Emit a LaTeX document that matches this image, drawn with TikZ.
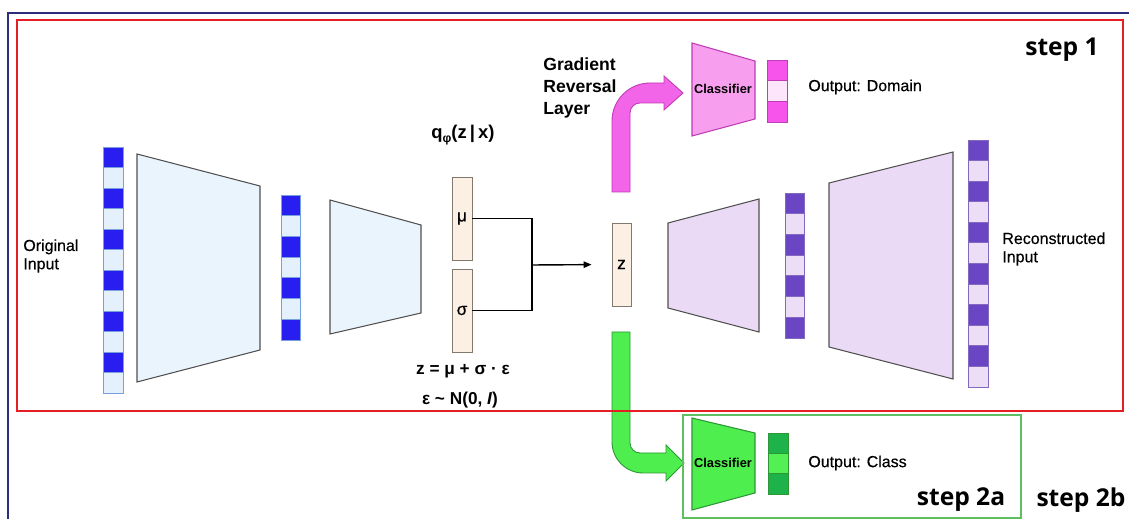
\documentclass[tikz,border=0pt]{standalone}
\usepackage{fontspec}
\setmainfont{Liberation Sans}
\newfontfamily\lblfont[FakeBold=0.4]{Liberation Sans}
\newfontfamily\stepfont{Open Sans}
\usetikzlibrary{arrows.meta}
\definecolor{navyline}{RGB}{45,45,125}
\definecolor{redframe}{RGB}{228,30,36}
\definecolor{greenframe}{RGB}{95,190,95}
\definecolor{bluecell}{RGB}{40,30,240}
\definecolor{bluelight}{RGB}{228,240,252}
\definecolor{bluestroke}{RGB}{120,160,220}
\definecolor{encfill}{RGB}{234,244,253}
\definecolor{trapstroke}{RGB}{80,80,80}
\definecolor{beige}{RGB}{252,240,228}
\definecolor{beigestroke}{RGB}{130,120,110}
\definecolor{purplecell}{RGB}{106,70,196}
\definecolor{purplelight}{RGB}{236,222,247}
\definecolor{purplestroke}{RGB}{130,105,190}
\definecolor{decfill}{RGB}{235,218,246}
\definecolor{pinkarrow}{RGB}{242,100,232}
\definecolor{pinkstroke}{RGB}{190,60,180}
\definecolor{pinkclass}{RGB}{248,158,238}
\definecolor{pinkcell}{RGB}{246,84,234}
\definecolor{pinklight}{RGB}{253,230,251}
\definecolor{greenarrow}{RGB}{78,238,78}
\definecolor{greenstroke}{RGB}{45,150,55}
\definecolor{greendark}{RGB}{30,178,75}
\definecolor{greenmid}{RGB}{82,240,82}
\newcommand{\cellcolumn}[8]{%
  \pgfmathsetmacro{\cellh}{(#4-#3)/#5}%
  \foreach \i in {1,...,#5}{%
    \pgfmathsetmacro{\ya}{#3+(\i-1)*\cellh}%
    \pgfmathsetmacro{\yb}{#3+\i*\cellh}%
    \ifodd\i\def\cc{#6}\else\def\cc{#7}\fi
    \draw[draw=#8, line width=0.5pt, fill=\cc] (#1,\ya) rectangle (#2,\yb);
  }%
}
\tikzset{
  trap/.style={draw=trapstroke, line width=0.6pt},
  lbl/.style={inner sep=0pt, font=\lblfont\fontsize{9.1}{10.4}\selectfont, align=left, anchor=west},
  boldlbl/.style={inner sep=0pt, font=\bfseries\fontsize{9.8}{11}\selectfont},
  clslbl/.style={inner sep=0pt, font=\bfseries\fontsize{7.3}{8}\selectfont},
  steplbl/.style={inner sep=0pt, font=\stepfont\bfseries\fontsize{14}{16}\selectfont},
  latent/.style={draw=beigestroke, fill=beige, line width=0.5pt, minimum width=0.4cm, minimum height=1.66cm, inner sep=0pt, font=\lblfont\fontsize{9.8}{10}\selectfont},
  conn/.style={line width=0.8pt, black},
}
\begin{document}
\begin{tikzpicture}[x=0.02cm, y=-0.02cm]
\useasboundingbox (0,0) rectangle (1129,519);
% navy outer frame
\draw[navyline, line width=1.2pt] (8,519) -- (8,13) -- (1135,13);
% arrows (drawn under frames)
\draw[draw=pinkstroke, fill=pinkarrow, line width=0.5pt]
  (612,192) -- (612,121) .. controls (612,100) and (629,83) .. (650,83)
  -- (664,83) -- (664,76) -- (683,93) -- (664,110) -- (664,103) -- (640,103)
  .. controls (634.5,103) and (630,107.5) .. (630,113) -- (630,192) -- cycle;
\draw[draw=greenstroke, fill=greenarrow, line width=0.5pt]
  (612,332) -- (612,442) .. controls (612,459) and (626,473) .. (643,473)
  -- (666,473) -- (666,481) -- (684,463) -- (666,445) -- (666,453) -- (640,453)
  .. controls (634.5,453) and (630,448.5) .. (630,443) -- (630,332) -- cycle;
% frames
\draw[redframe, line width=1.3pt] (17,20) rectangle (1123,411);
\draw[greenframe, line width=1pt] (683,415) rectangle (1021,518);
% encoder
\cellcolumn{103}{123}{147}{393}{12}{bluecell}{bluelight}{bluestroke}
\draw[trap, fill=encfill] (137,154) -- (260,186) -- (260,350) -- (137,382) -- cycle;
\cellcolumn{281}{300}{195}{340}{7}{bluecell}{bluelight}{bluestroke}
\draw[trap, fill=encfill] (330,200) -- (421,225) -- (421,313) -- (330,334) -- cycle;
% latent
\node[latent] (mu) at (462,218.5) {μ};
\node[latent] (sigma) at (462,310.5) {σ};
\node[latent, minimum width=0.38cm] (z) at (621.5,264.5) {z};
\coordinate (jn) at (532,265);
\draw[conn] (mu.east) -| (jn) |- (sigma.east);
\draw[conn, -{Triangle[length=0.16cm, width=0.13cm]}, shorten >=0.4cm] (jn) -- (z.west);
% decoder
\draw[trap, fill=decfill] (668,223) -- (759,199) -- (759,332) -- (668,308) -- cycle;
\cellcolumn{785}{804}{193}{338}{7}{purplecell}{purplelight}{purplestroke}
\draw[trap, fill=decfill] (829,183) -- (953,152) -- (953,379) -- (829,347) -- cycle;
\cellcolumn{968}{988}{140}{387}{12}{purplecell}{purplelight}{purplestroke}
% domain classifier
\draw[draw=pinkstroke, fill=pinkclass, line width=0.6pt] (692,43) -- (755,61) -- (755,119) -- (692,136) -- cycle;
\node[clslbl] (dcls) at (723,89) {Classifier};
\cellcolumn{767}{787}{60}{122}{3}{pinkcell}{pinklight}{pinkstroke}
% class classifier
\draw[draw=greenstroke, fill=greenarrow, line width=0.6pt] (692,418) -- (755,433) -- (755,493) -- (692,510) -- cycle;
\node[clslbl] (ccls) at (723,463) {Classifier};
\cellcolumn{768}{788}{433}{494}{3}{greendark}{greenmid}{greenstroke}
% labels
\node[lbl] (orig) at (23,256) {Original\\Input};
\node[lbl] (recon) at (1002,249) {Reconstructed\\Input};
\node[lbl] (odom) at (808,87) {Output: Domain};
\node[lbl] (ocls) at (808,463) {Output: Class};
\node[lbl, font=\bfseries\fontsize{10}{12.5}\selectfont] (grl) at (543,88) {Gradient\\Reversal\\Layer};
\node[boldlbl, font=\bfseries\fontsize{10.5}{12}\selectfont] (q) at (463,135) {q\raisebox{-0.45ex}{\fontsize{7}{8}\selectfont φ}(z\,|\,x)};
\node[boldlbl] (eq1) at (463,371) {z = μ + σ · ε};
\node[boldlbl] (eq2) at (460,400) {ε \textasciitilde{} N(0, \textit{I})};
\node[steplbl] (s1) at (1062,50) {step 1};
\node[steplbl] (s2a) at (961,500) {step 2a};
\node[steplbl] (s2b) at (1081,500) {step 2b};
\end{tikzpicture}
\end{document}
